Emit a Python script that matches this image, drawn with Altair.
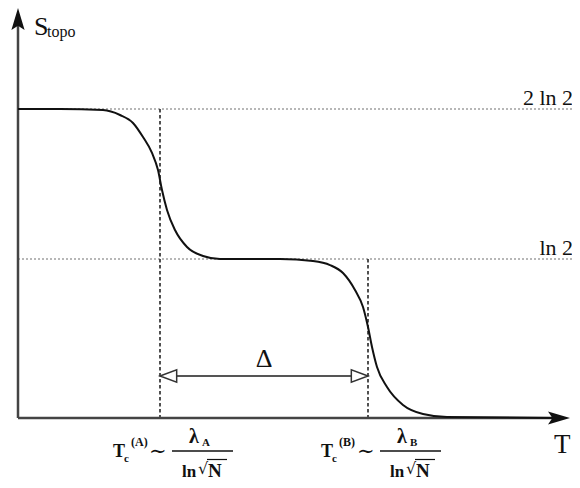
import altair as alt
import pandas as pd

# ---- data (T in arbitrary units, S in units of ln 2) ----
curve_T = [0, 4.2, 8.5, 10.2, 11.5, 12.5, 13.4, 14.0, 14.4, 14.9, 15.7, 16.9, 18.5, 20.2,
           26.2, 29.5, 31.2, 32.5, 33.7, 34.5, 35.0, 35.4, 35.9, 36.9, 38.5, 40.5, 42.9, 53.7]
curve_S = [2, 2, 1.993, 1.96, 1.907, 1.813, 1.707, 1.593, 1.46, 1.327, 1.193, 1.08, 1.02, 1.0,
           1.0, 0.987, 0.962, 0.912, 0.805, 0.698, 0.572, 0.447, 0.321, 0.195, 0.082, 0.025, 0.006, 0]
level_S = [2, 1]
level_labels = ["2 ln 2", "ln 2"]
Tc_values = [14.2, 35.0]
Tc_names = ["A", "B"]
Tc_top = [2, 1]

curve_df = pd.DataFrame({"T": curve_T, "S": curve_S})
levels_df = pd.DataFrame({"S": level_S, "label": level_labels})
tc_df = pd.DataFrame({"Tc": Tc_values, "top": Tc_top})
one = pd.DataFrame({"k": [0]})

SERIF = "Liberation Serif"
INK = "#111111"

xs = alt.Scale(domain=[-1, 55.4], nice=False, zero=False)
ys = alt.Scale(domain=[0, 1, 2], range=[410, 251, 101], nice=False, zero=False)


def XD(v):
    return alt.XDatum(v, scale=xs, axis=None)


def YD(v):
    return alt.YDatum(v, scale=ys, axis=None)


layers = []

# dotted reference levels
layers.append(
    alt.Chart(levels_df).mark_rule(color="#a0a0a0", strokeDash=[2, 2], strokeWidth=1.5).encode(
        x=XD(0), x2=alt.X2Datum(56), y=alt.Y("S:Q", scale=ys, axis=None)
    )
)
layers.append(
    alt.Chart(levels_df).mark_text(align="right", baseline="alphabetic", dy=-4, fontSize=22,
                                   font=SERIF, color=INK).encode(
        x=XD(55.5), y=alt.Y("S:Q", scale=ys, axis=None), text="label:N"
    )
)

# dashed verticals at the crossover temperatures
layers.append(
    alt.Chart(tc_df).mark_rule(color="#333333", strokeDash=[3.5, 2.5], strokeWidth=1.7).encode(
        x=alt.X("Tc:Q", scale=xs, axis=None), y=alt.Y("top:Q", scale=ys, axis=None), y2=alt.Y2Datum(0)
    )
)

# axes
layers.append(
    alt.Chart(one).mark_rule(color="#444444", strokeWidth=2.5).encode(x=XD(0), y=YD(0), y2=alt.Y2Datum(2.6))
)
layers.append(
    alt.Chart(one).mark_rule(color="#444444", strokeWidth=2.5).encode(x=XD(0), x2=alt.X2Datum(54.5), y=YD(0))
)
ARROW = "M0,0L-2,-0.6L-1.6,0L-2,0.6Z"
layers.append(
    alt.Chart(one).mark_point(shape=ARROW, size=484, filled=True, color="#111111", opacity=1).encode(
        x=XD(55.2), y=YD(0)
    )
)
layers.append(
    alt.Chart(one).mark_point(shape=ARROW, size=484, filled=True, color="#111111", opacity=1, angle=270).encode(
        x=XD(0), y=YD(2.673)
    )
)

# the curve
layers.append(
    alt.Chart(curve_df).mark_line(interpolate="monotone", color=INK, strokeWidth=2).encode(
        x=alt.X("T:Q", scale=xs, axis=None), y=alt.Y("S:Q", scale=ys, axis=None)
    )
)

# Delta double arrow
TA, TB = Tc_values
S_ARROW = 0.264
layers.append(
    alt.Chart(one).mark_rule(color="#555555", strokeWidth=2).encode(x=XD(TA), x2=alt.X2Datum(TB), y=YD(S_ARROW))
)
layers.append(
    alt.Chart(one).mark_point(shape="M0,0L2,-0.75L2,0.75Z", size=278, filled=True, fill="white",
                              stroke="#333333", strokeWidth=1.5, opacity=1).encode(x=XD(TA), y=YD(S_ARROW))
)
layers.append(
    alt.Chart(one).mark_point(shape="M0,0L-2,-0.75L-2,0.75Z", size=278, filled=True, fill="white",
                              stroke="#333333", strokeWidth=1.5, opacity=1).encode(x=XD(TB), y=YD(S_ARROW))
)
layers.append(
    alt.Chart(one).mark_text(text="Δ", fontSize=26, font=SERIF, color=INK, align="center",
                             baseline="alphabetic", dy=-9).encode(x=XD((TA + TB) / 2), y=YD(S_ARROW))
)

# axis titles
layers.append(
    alt.Chart(one).mark_text(text="S", fontSize=26, font=SERIF, color=INK, align="left",
                             baseline="alphabetic").encode(x=XD(1.6), y=alt.value(27))
)
layers.append(
    alt.Chart(one).mark_text(text="topo", fontSize=16, font=SERIF, color=INK, align="left",
                             baseline="alphabetic").encode(x=XD(2.9), y=alt.value(29))
)
layers.append(
    alt.Chart(one).mark_text(text="T", fontSize=27, font=SERIF, color=INK, align="left",
                             baseline="alphabetic", dy=35).encode(x=XD(53.6), y=YD(0))
)


# crossover-temperature labels
def txt(s, Tc, dx, page_y, size, bold=True, font=SERIF):
    return alt.Chart(one).mark_text(text=s, fontSize=size, font=font, color=INK, align="left",
                                    baseline="alphabetic", dx=dx,
                                    fontWeight="bold" if bold else "normal").encode(
        x=XD(Tc), y=alt.value(page_y - 8))


for Tc, name in zip(Tc_values, Tc_names):
    layers += [
        txt("T", Tc, -47, 457, 18),
        txt("c", Tc, -36, 462, 11),
        txt("(" + name + ")", Tc, -29, 446, 12),
        txt("∼", Tc, -11, 458, 21, bold=False, font="DejaVu Serif"),
        txt("λ", Tc, 29, 443, 20),
        txt(name, Tc, 42, 446, 11),
        txt("ln", Tc, 22, 477, 17),
        txt("√", Tc, 38, 474, 16, bold=False, font="DejaVu Serif"),
        txt("N", Tc, 48, 477, 19),
    ]
    layers.append(
        alt.Chart(one).mark_rule(color=INK, strokeWidth=1.5).encode(
            x=XD(Tc + 1.2), x2=alt.X2Datum(Tc + 7.3), y=alt.value(451 - 8))
    )
    layers.append(
        alt.Chart(one).mark_rule(color=INK, strokeWidth=1.2).encode(
            x=XD(Tc + 4.7), x2=alt.X2Datum(Tc + 6.7), y=alt.value(459.5 - 8))
    )

chart = alt.layer(*layers).properties(
    width=564, height=472, padding=0, autosize=alt.AutoSizeParams(type="none")
).configure_view(stroke=None)

chart.save("out.html", embed_options={"renderer": "svg", "actions": False})
